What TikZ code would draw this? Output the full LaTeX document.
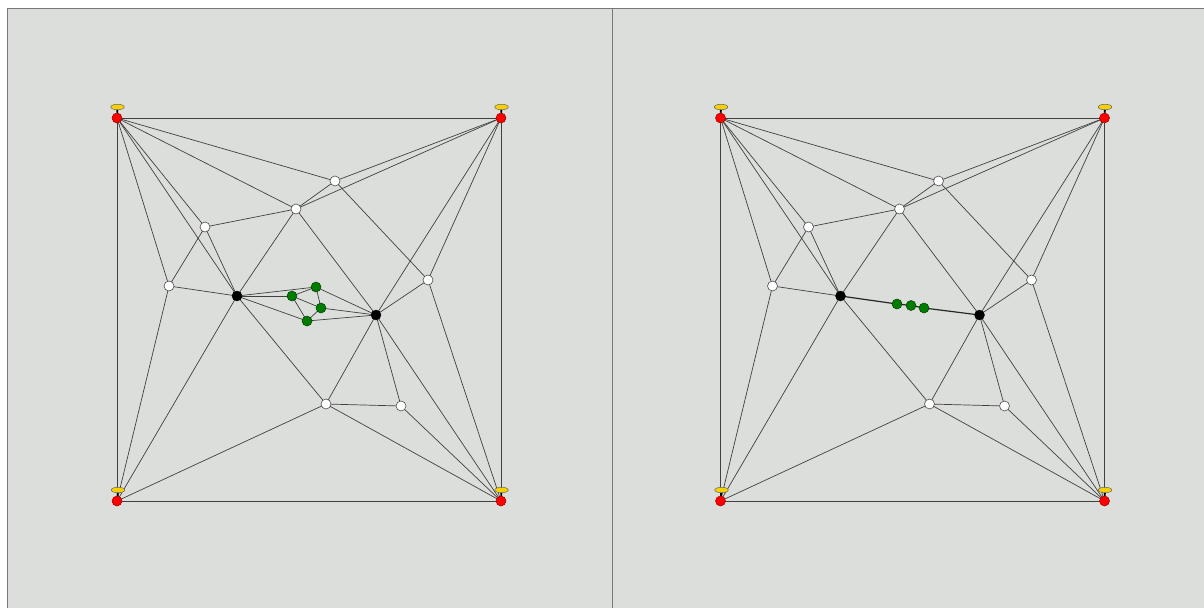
\documentclass[tikz,border=0pt]{standalone}
\usetikzlibrary{shapes.geometric}
\definecolor{bgc}{RGB}{220,222,219}
\definecolor{framec}{RGB}{120,120,120}
\definecolor{gcol}{RGB}{0,125,0}
\definecolor{gold}{RGB}{250,208,0}
\pgfdeclarelayer{edges}
\pgfsetlayers{edges,main}
\newcommand\commonpanel{%
  \node[rn] (TL) at (117,118) {};
  \node[rn] (TR) at (501,118) {};
  \node[rn] (BL) at (117,501) {};
  \node[rn] (BR) at (501,501) {};
  \node[yp] (pTL) at (117.5,107) {};
  \node[yp] (pTR) at (501.5,107) {};
  \node[yp] (pBL) at (118,490) {};
  \node[yp] (pBR) at (501.5,490) {};
  \draw[stick] (pTL) -- (TL);
  \draw[stick] (pTR) -- (TR);
  \draw[stick] (pBL) -- (BL);
  \draw[stick] (pBR) -- (BR);
  \node[wn] (A) at (335,181) {};
  \node[wn] (B) at (296,209) {};
  \node[wn] (C) at (205,227) {};
  \node[wn] (D) at (169,286) {};
  \node[wn] (E) at (428,280) {};
  \node[wn] (F) at (326,404) {};
  \node[wn] (G) at (401,406) {};
  \node[bn] (H1) at (237,296) {};
  \node[bn] (H2) at (376,315) {};
  \begin{pgfonlayer}{edges}
  \foreach \a/\b in {TL/TR,TL/BL,TR/BR,BL/BR,TL/A,TL/B,TL/C,TL/H1,TL/D,
    TR/A,TR/B,TR/E,TR/H2,BL/D,BL/H1,BL/F,BR/E,BR/H2,BR/G,BR/F,
    A/B,A/E,B/C,B/H1,B/H2,C/D,C/H1,D/H1,E/H2,H1/F,H2/F,H2/G,F/G}
    {\draw[ed] (\a.center) -- (\b.center);}
  \end{pgfonlayer}
}
\begin{document}
\begin{tikzpicture}[x=1pt,y=-1pt,
  wn/.style={circle,draw=black!70,fill=white,inner sep=0pt,minimum size=10pt,line width=0.6pt},
  bn/.style={circle,draw=black,fill=black,inner sep=0pt,minimum size=10pt,line width=0.4pt},
  gn/.style={circle,draw=black!50!gcol,fill=gcol,inner sep=0pt,minimum size=10pt,line width=0.5pt},
  rn/.style={circle,draw=red!60!black,fill=red,inner sep=0pt,minimum size=10pt,line width=0.5pt},
  yp/.style={ellipse,draw=black!60,fill=gold,inner sep=0pt,minimum width=13.5pt,minimum height=5.5pt,line width=0.5pt},
  stick/.style={draw=black,line width=1.8pt},
  ed/.style={draw=black!75,line width=0.7pt},
  hv/.style={draw=black!85,line width=1.2pt}]
\useasboundingbox (0,0) rectangle (1204,608);
\begin{pgfonlayer}{edges}
\fill[white] (0,0) rectangle (1204,608);
\fill[bgc] (7,8) rectangle (1204,608);
\draw[framec,line width=1.5pt] (7.5,608) -- (7.5,8.5) -- (1204,8.5);
\draw[framec,line width=1.5pt] (612.5,8.5) -- (612.5,608);
\end{pgfonlayer}
\begin{scope}[name prefix=L-]
  \commonpanel
  \node[gn] (g1) at (316,287) {};
  \node[gn] (g2) at (292,296) {};
  \node[gn] (g3) at (321,308) {};
  \node[gn] (g4) at (307,321) {};
  \begin{pgfonlayer}{edges}
  \foreach \a/\b in {H1/g1,H1/g2,H1/g4,g1/g2,g2/g3,g2/g4,g1/g3,g3/g4,g1/H2,g3/H2,g4/H2}
    {\draw[ed] (\a.center) -- (\b.center);}
  \end{pgfonlayer}
\end{scope}
\begin{scope}[xshift=603.5pt,name prefix=R-]
  \commonpanel
  \node[gn] (g1) at (293.5,304) {};
  \node[gn] (g2) at (307.5,305.5) {};
  \node[gn] (g3) at (320.5,308) {};
  \begin{pgfonlayer}{edges}
  \foreach \a/\b in {H1/g1,g1/g2,g2/g3,g3/H2}
    {\draw[hv] (\a.center) -- (\b.center);}
  \end{pgfonlayer}
\end{scope}
\end{tikzpicture}
\end{document}
